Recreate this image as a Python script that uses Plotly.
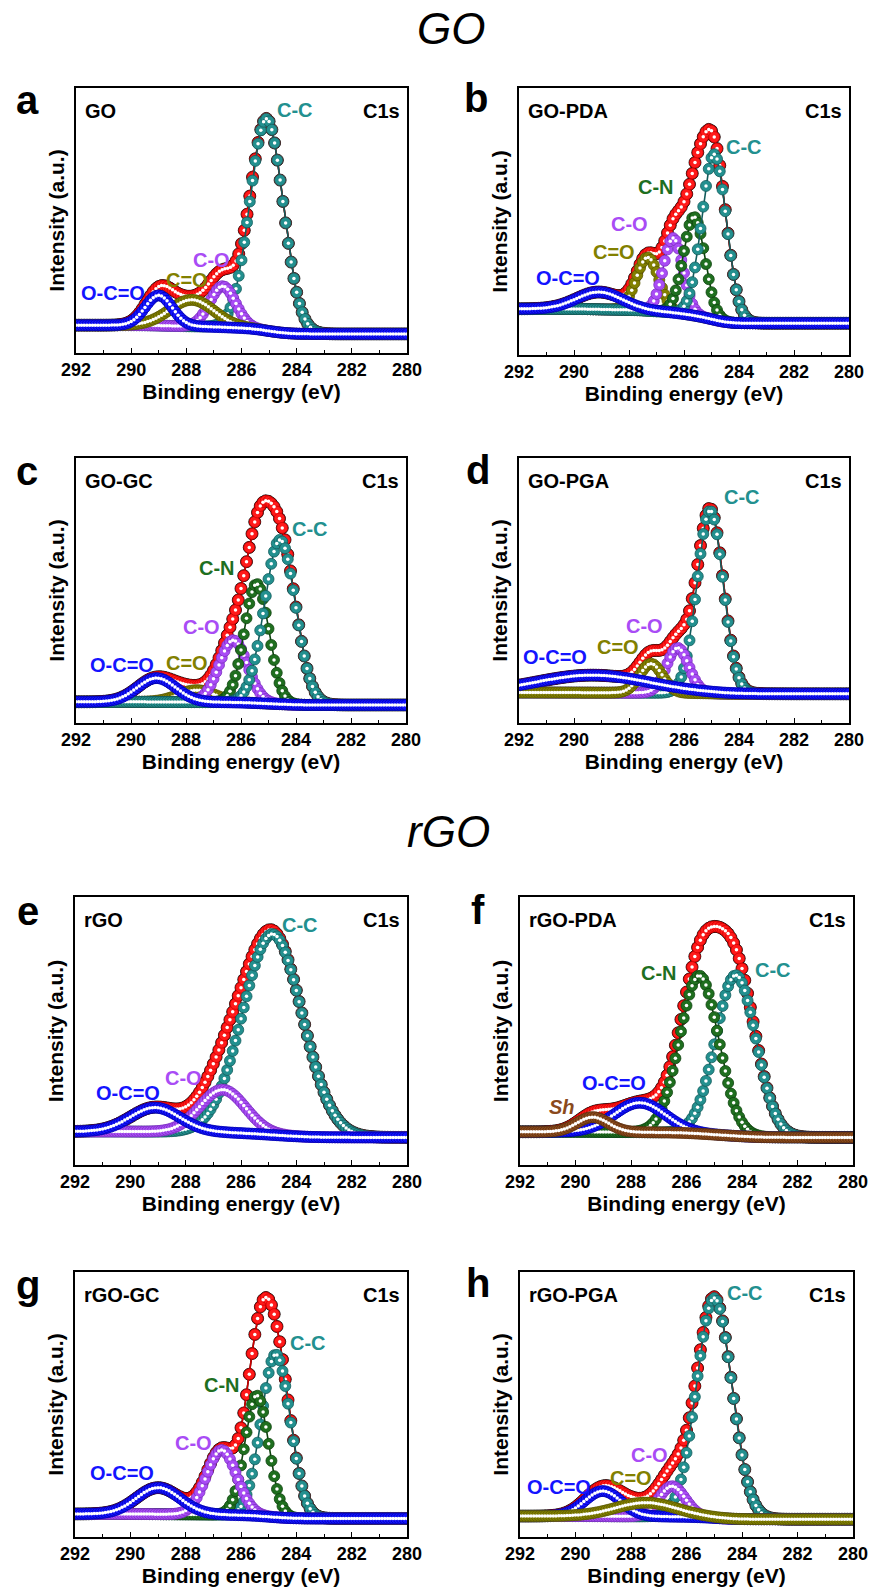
import numpy as np
import plotly.graph_objects as go

W, H = 871, 1596

# sampled binding-energy grid (eV), descending like the axis
energy = np.round(np.arange(292.0, 279.95, -0.1), 2)

samples = ["GO", "GO-PDA", "GO-GC", "GO-PGA", "rGO", "rGO-PDA", "rGO-GC", "rGO-PGA"]
letters = ["a", "b", "c", "d", "e", "f", "g", "h"]

# ---- fitted C1s components: centre (eV), height (a.u.), FWHM (eV)
# listed in drawing order (last one drawn on top); background = [level at 292 eV, level at 280 eV]
GO_species = ["C-C", "C-O", "C=O", "O-C=O"]
GO_centre = [285.09, 286.68, 287.80, 289.00]
GO_height = [80.0, 15.5, 10.0, 11.4]
GO_fwhm = [1.42, 1.10, 1.90, 1.15]
GO_background = [10.5, 7.2]

GOPDA_species = ["C=O", "C-O", "C-N", "C-C", "O-C=O"]
GOPDA_centre = [287.32, 286.39, 285.63, 284.90, 289.08]
GOPDA_height = [20.0, 28.0, 37.0, 62.0, 6.5]
GOPDA_fwhm = [0.97, 0.84, 0.92, 1.05, 1.94]
GOPDA_background = [17.3, 11.9]

GOGC_species = ["C=O", "C-O", "C-N", "C-C", "O-C=O"]
GOGC_centre = [287.61, 286.28, 285.43, 284.58, 289.07]
GOGC_height = [4.5, 23.5, 45.0, 62.0, 9.0]
GOGC_fwhm = [1.60, 1.21, 1.05, 1.33, 1.64]
GOGC_background = [8.0, 6.8]

GOPGA_species = ["C-C", "C-O", "C=O", "O-C=O"]
GOPGA_centre = [285.05, 286.23, 287.20, 289.32]
GOPGA_height = [69.0, 17.0, 11.0, 6.6]
GOPGA_fwhm = [1.12, 0.95, 0.97, 4.80]
GOPGA_background = [11.5, 11.0]

rGO_species = ["C-C", "C-O", "O-C=O"]
rGO_centre = [284.86, 286.66, 289.11]
rGO_height = [75.0, 16.0, 9.0]
rGO_fwhm = [2.53, 1.93, 2.10]
rGO_background = [12.5, 10.3]

rGOPDA_species = ["C-C", "C-N", "O-C=O", "Sh"]
rGOPDA_centre = [284.22, 285.54, 287.68, 289.38]
rGOPDA_height = [60.0, 59.0, 11.0, 5.5]
rGOPDA_fwhm = [1.71, 1.65, 2.16, 1.32]
rGOPDA_background = [12.4, 10.3]

rGOGC_species = ["C-C", "C-N", "C-O", "O-C=O"]
rGOGC_centre = [284.74, 285.43, 286.70, 288.99]
rGOGC_height = [61.5, 45.5, 24.5, 10.0]
rGOGC_fwhm = [1.23, 1.01, 1.29, 1.85]
rGOGC_background = [8.7, 7.0]

rGOPGA_species = ["C-C", "C-O", "O-C=O", "C=O"]
rGOPGA_centre = [285.00, 286.52, 289.02, 287.46]
rGOPGA_height = [83.0, 11.5, 9.5, 5.2]
rGOPGA_fwhm = [1.50, 1.12, 1.53, 2.60]
rGOPGA_background = [7.9, 6.7]

xticks = [292, 290, 288, 286, 284, 282, 280]

fits = [
    (GO_species, GO_centre, GO_height, GO_fwhm, GO_background),
    (GOPDA_species, GOPDA_centre, GOPDA_height, GOPDA_fwhm, GOPDA_background),
    (GOGC_species, GOGC_centre, GOGC_height, GOGC_fwhm, GOGC_background),
    (GOPGA_species, GOPGA_centre, GOPGA_height, GOPGA_fwhm, GOPGA_background),
    (rGO_species, rGO_centre, rGO_height, rGO_fwhm, rGO_background),
    (rGOPDA_species, rGOPDA_centre, rGOPDA_height, rGOPDA_fwhm, rGOPDA_background),
    (rGOGC_species, rGOGC_centre, rGOGC_height, rGOGC_fwhm, rGOGC_background),
    (rGOPGA_species, rGOPGA_centre, rGOPGA_height, rGOPGA_fwhm, rGOPGA_background),
]

# ---- styles / layout (pixel boxes: left, right, top, bottom)
colors = {"C-C": "#23908f", "C-N": "#1f6f1f", "C-O": "#a94cf5", "C=O": "#828000",
          "O-C=O": "#1414ff", "Sh": "#8a4a1c"}
edge = {"C-C": "#135c5c", "C-N": "#0f420f", "C-O": "#7b2fc0", "C=O": "#5a5800",
        "O-C=O": "#0000b0", "Sh": "#5c2e0e"}
boxes = [(76, 407, 88, 353), (519, 849, 88, 355), (76, 406, 458, 723), (519, 849, 458, 723),
         (75, 407, 897, 1165), (520, 853, 897, 1165), (75, 407, 1272, 1537), (520, 853, 1272, 1537)]
label_pos = [
    {"C-C": (284.06, 91.7), "C-O": (287.08, 35.1), "C=O": (287.99, 27.5), "O-C=O": (290.65, 22.6)},
    {"C-C": (283.81, 78.0), "C-N": (287.02, 62.8), "C-O": (287.99, 49.1), "C=O": (288.53, 38.7), "O-C=O": (290.23, 28.7)},
    {"C-C": (283.49, 73.1), "C-N": (286.88, 58.4), "C-O": (287.43, 36.4), "C=O": (287.97, 22.5), "O-C=O": (290.34, 21.9)},
    {"C-C": (283.89, 85.2), "C-O": (287.44, 36.6), "C=O": (288.41, 28.6), "O-C=O": (290.68, 24.8)},
    {"C-C": (283.87, 89.6), "C-O": (288.09, 32.3), "O-C=O": (290.07, 26.7)},
    {"C-C": (282.89, 72.8), "C-N": (286.98, 71.5), "O-C=O": (288.60, 30.5), "Sh": (290.49, 21.8)},
    {"C-C": (283.57, 73.1), "C-N": (286.70, 57.4), "C-O": (287.72, 35.6), "O-C=O": (290.31, 24.3)},
    {"C-C": (283.91, 92.0), "C-O": (287.34, 30.9), "C=O": (288.00, 22.2), "O-C=O": (290.61, 18.8)},
]
letter_pos = [(27, 100), (476, 98), (27, 471), (478, 470), (28, 911), (478, 910), (28, 1285), (478, 1283)]

FONT = "Arial, Liberation Sans, sans-serif"


def gauss(x, c, h, w):
    return h * np.exp(-4 * np.log(2) * (x - c) ** 2 / w ** 2)


def shirley(total, left, right):
    cum = np.cumsum(total[::-1])[::-1]
    return right + (left - right) * cum / cum[0]


fig = go.Figure()
annotations = []

for i, (species, centre, height, fwhm, bgl) in enumerate(fits):
    n = i + 1
    xa = "x" if n == 1 else f"x{n}"
    ya = "y" if n == 1 else f"y{n}"
    comps = [gauss(energy, c, h, w) for c, h, w in zip(centre, height, fwhm)]
    total = np.sum(comps, axis=0)
    bg = shirley(total, bgl[0], bgl[1])
    envelope = bg + total

    def balls(y, col, ecol, size=11, lw=1.6):
        fig.add_trace(go.Scatter(x=energy, y=y, mode="lines+markers", xaxis=xa, yaxis=ya,
                                 line=dict(color=ecol, width=lw),
                                 marker=dict(size=size, color=col, line=dict(color=ecol, width=0.8)),
                                 showlegend=False, hoverinfo="skip"))
        fig.add_trace(go.Scatter(x=energy, y=y, mode="markers", xaxis=xa, yaxis=ya,
                                 marker=dict(size=3.5, color="white"),
                                 showlegend=False, hoverinfo="skip"))

    balls(envelope, "#111111", "#000000", size=12)
    balls(envelope, "#ff1a1a", "#d00000", size=11)
    for sp, comp in zip(species, comps):
        balls(bg + comp, colors[sp], edge[sp], size=11)

    l, r, t, b = boxes[i]
    ax_common = dict(showline=True, linecolor="black", linewidth=1.6, mirror=True,
                     showgrid=False, zeroline=False, automargin=False)
    fig.update_layout({
        ("xaxis" if n == 1 else f"xaxis{n}"): dict(
            domain=[l / W, r / W], anchor=ya, range=[292, 280],
            tickvals=xticks, ticktext=[str(v) for v in xticks],
            ticks="inside", ticklen=5, tickwidth=1.4, tickcolor="black",
            minor=dict(dtick=1, ticks="inside", ticklen=3, tickwidth=1.2, tickcolor="black"),
            tickfont=dict(family=FONT, size=18, color="black", weight="bold"),
            ticklabeloverflow="allow",
            title=dict(text="Binding energy (eV)", standoff=0,
                       font=dict(family=FONT, size=21, color="black", weight="bold")),
            **ax_common),
        ("yaxis" if n == 1 else f"yaxis{n}"): dict(
            domain=[1 - b / H, 1 - t / H], anchor=xa, range=[0, 100],
            showticklabels=False, ticks="",
            title=dict(text="Intensity (a.u.)", standoff=4,
                       font=dict(family=FONT, size=21, color="black", weight="bold")),
            **ax_common),
    })

    for sp in species:
        px, py = label_pos[i][sp]
        annotations.append(dict(x=px, y=py, xref=xa, yref=ya, text=sp, showarrow=False,
                                xanchor="center", yanchor="middle",
                                font=dict(family=FONT, size=20, color=colors[sp], weight="bold",
                                          style="italic" if sp == "Sh" else "normal")))
    annotations.append(dict(x=0.022, y=0.915, xref=f"{xa} domain", yref=f"{ya} domain",
                            xanchor="left", yanchor="middle", text=samples[i], showarrow=False,
                            font=dict(family=FONT, size=20, color="black", weight="bold")))
    annotations.append(dict(x=0.985, y=0.915, xref=f"{xa} domain", yref=f"{ya} domain",
                            xanchor="right", yanchor="middle", text="C1s", showarrow=False,
                            font=dict(family=FONT, size=20, color="black", weight="bold")))
    lx, ly = letter_pos[i]
    annotations.append(dict(x=lx / W, y=1 - ly / H, xref="paper", yref="paper",
                            xanchor="center", yanchor="middle", text=letters[i], showarrow=False,
                            font=dict(family=FONT, size=40, color="black", weight="bold")))

annotations.append(dict(x=451 / W, y=1 - 28 / H, xref="paper", yref="paper", text="GO",
                        xanchor="center", yanchor="middle", showarrow=False,
                        font=dict(family=FONT, size=44, color="black", style="italic")))
annotations.append(dict(x=448 / W, y=1 - 831 / H, xref="paper", yref="paper", text="rGO",
                        xanchor="center", yanchor="middle", showarrow=False,
                        font=dict(family=FONT, size=44, color="black", style="italic")))

fig.update_layout(width=W, height=H, margin=dict(l=0, r=0, t=0, b=0),
                  paper_bgcolor="white", plot_bgcolor="white", annotations=annotations)

fig.write_html("out.html", config={"displayModeBar": False},
               post_script="document.body.style.margin='0px';")
